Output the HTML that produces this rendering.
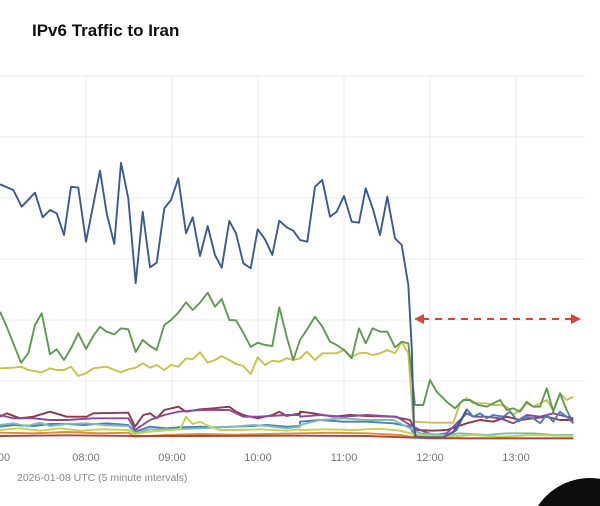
<!DOCTYPE html>
<html><head><meta charset="utf-8"><style>
html,body{margin:0;padding:0;background:#fff;}
body{width:600px;height:506px;overflow:hidden;position:relative;font-family:"Liberation Sans",sans-serif;}
svg{display:block;}
</style></head><body>
<svg id="s" width="600" height="506" viewBox="0 0 600 506" xmlns="http://www.w3.org/2000/svg">
<text x="32" y="36" font-family="Liberation Sans" font-weight="bold" font-size="17" fill="#111">IPv6 Traffic to Iran</text>
<g stroke="#ebebeb" stroke-width="1">
<line x1="0" y1="76" x2="585" y2="76"/><line x1="0" y1="137" x2="585" y2="137"/>
<line x1="0" y1="198" x2="585" y2="198"/><line x1="0" y1="259" x2="585" y2="259"/>
<line x1="0" y1="320" x2="585" y2="320"/><line x1="0" y1="381" x2="585" y2="381"/>
<line x1="86" y1="76" x2="86" y2="442"/><line x1="172" y1="76" x2="172" y2="442"/>
<line x1="258" y1="76" x2="258" y2="442"/><line x1="344" y1="76" x2="344" y2="442"/>
<line x1="430" y1="76" x2="430" y2="442"/><line x1="516" y1="76" x2="516" y2="442"/>
</g>
<g font-family="Liberation Sans" font-size="11" fill="#777" text-anchor="middle">
<text x="4" y="461">00</text><text x="86" y="461">08:00</text><text x="172" y="461">09:00</text>
<text x="258" y="461">10:00</text><text x="344" y="461">11:00</text><text x="430" y="461">12:00</text>
<text x="516" y="461">13:00</text>
</g>
<text x="17" y="481" font-family="Liberation Sans" font-size="10.5" fill="#888">2026-01-08 UTC (5 minute intervals)</text>
<g id="lines" fill="none" stroke-width="1.9" stroke-linejoin="round"></g>
<line x1="422" y1="319" x2="572" y2="319" stroke="#d9443a" stroke-width="2" stroke-dasharray="7,6"/>
<polygon points="414,319 424,314 424,324" fill="#d9443a"/>
<polygon points="581,319 571,314 571,324" fill="#d9443a"/>
<path d="M538,506 A62,62 0 0 1 600,478.8 L600,506 Z" fill="#0d0d0d"/>
</svg>
<script>
function P(a,b){var o=[];for(var i=0;i<a.length;i+=2)o.push(((a[i]/3)+0).toFixed(1)+','+(a[i+1]/3+140).toFixed(1));
for(var i=0;i<b.length;i+=2)o.push((b[i]/3+300).toFixed(1)+','+(b[i+1]/3+140).toFixed(1));return o.join(' ');}
var S=[
['#c8c24a',[0,685,40,683,63,680,85,690,125,697,150,685,170,690,192,690,213,680,235,708,258,700,280,685,320,680,343,690,363,697,385,688,407,683,428,670,450,683,470,675,493,690,513,675,535,680,558,655,578,658,600,637,623,668,645,660,665,648,688,660,708,672,730,678,752,702,773,652,795,675,817,662,838,665,860,655,880,660],[0,655,20,635,45,660,67,640,90,640,110,640,132,630,155,650,177,640,197,638,218,645,240,640,262,630,285,640,305,605,325,640,340,845,400,848,460,848,480,790,500,775,520,790,540,790,560,790,580,795,600,795,620,800,640,825,660,810,680,790,700,800,720,790,740,780,760,810,780,760,800,780,820,770]],
['#5e9a52',[0,515,20,560,40,610,63,668,85,640,105,555,125,520,150,643,170,628,192,660,213,625,235,580,258,627,280,588,300,560,320,575,343,583,363,565,385,568,407,636,428,600,450,618,470,630,493,555,513,540,535,518,558,487,578,510,600,488,623,458,645,500,665,477,688,540,708,541,730,578,752,621,773,608,795,615,817,618,838,502,860,590,880,660],[0,600,20,570,45,530,67,560,90,605,110,615,132,630,155,655,177,565,197,610,218,565,240,575,262,575,285,622,305,605,325,610,345,795,370,795,390,720,410,755,440,785,465,805,490,780,510,780,535,795,560,800,580,790,600,780,620,810,640,805,660,815,680,785,700,800,720,800,740,745,760,815,780,760,800,810,820,850]],
['#8b3a4a',[0,830,20,820,60,835,100,830,150,815,200,830,260,830,280,820,385,818,405,860,430,825,450,820,470,835,493,810,535,800,558,815,600,808,640,805,688,800,708,815,730,825,773,835,817,825,838,815,860,828,900,820],[0,815,40,820,100,830,150,825,200,828,280,830,330,840,345,870,400,872,440,870,470,860,500,850,540,840,580,845,620,830,660,840,700,835,740,830,780,840,820,840]],
['#8e4a9a',[0,825,40,835,100,835,150,840,200,840,280,835,385,835,405,870,450,840,493,825,535,815,600,810,688,810,730,830,773,830,860,825,900,825],[0,830,60,825,130,830,200,825,290,830,330,855,360,870,400,885,440,880,470,850,500,820,520,830,560,830,600,835,640,850,680,825,720,830,760,820,800,830,820,835]],
['#4a7fb5',[0,860,40,855,100,858,150,852,200,852,250,855,320,850,385,855,405,875,450,860,500,865,535,862,600,860,640,862,700,860,760,858,800,855,860,860,900,858],[0,845,60,840,130,845,200,845,280,850,330,860,345,890,440,890,470,870,500,808,520,830,540,820,560,835,580,825,610,830,630,815,655,845,675,830,700,835,720,850,740,825,760,845,780,815,800,830,820,850]],
['#7dbdb0',[0,855,40,850,80,858,120,848,150,858,200,852,260,850,320,856,385,858,405,880,450,868,520,868,600,865,700,860,760,855,800,858,860,865,900,860],[0,855,60,840,130,835,200,840,280,840,330,865,360,880,440,885,480,880,560,885,620,880,700,880,760,885,820,885]],
['#c4d24f',[0,870,60,865,120,872,180,865,240,872,300,868,385,870,405,882,450,875,540,868,558,830,578,852,600,845,630,860,660,870,720,870,780,868,860,872,900,868],[0,870,80,868,160,870,240,866,300,872,330,880,360,885,440,890,520,885,600,890,700,885,820,888]],
['#d88f3b',[0,878,100,880,200,876,300,880,385,878,405,890,500,885,600,882,700,884,800,882,900,880],[0,880,100,878,200,880,300,885,345,892,500,895,600,895,700,895,820,895]],
['#3b5a93',[0,133,40,150,65,200,105,158,128,232,150,210,170,220,192,285,213,140,235,143,258,305,300,92,320,220,343,312,363,68,385,175,407,430,428,215,450,382,470,368,493,205,513,180,535,115,558,280,578,232,600,348,623,258,645,345,665,383,688,243,708,280,730,370,752,385,773,268,795,298,817,345,838,242,860,262,880,272,900,300],[0,300,22,305,45,140,67,120,90,230,110,215,132,168,155,245,177,248,197,145,218,205,240,285,262,170,285,295,305,315,325,435,335,620,342,860,348,892,400,892,430,892,460,875,480,845,500,808]],
['#b0463a',[0,888,200,886,400,888,600,888,900,887],[0,887,200,888,400,895,820,895]]
];
var g=document.getElementById('lines');
S.forEach(function(s){var e=document.createElementNS('http://www.w3.org/2000/svg','polyline');
e.setAttribute('points',P(s[1],s[2]));e.setAttribute('stroke',s[0]);g.appendChild(e);});
</script>
</body></html>
